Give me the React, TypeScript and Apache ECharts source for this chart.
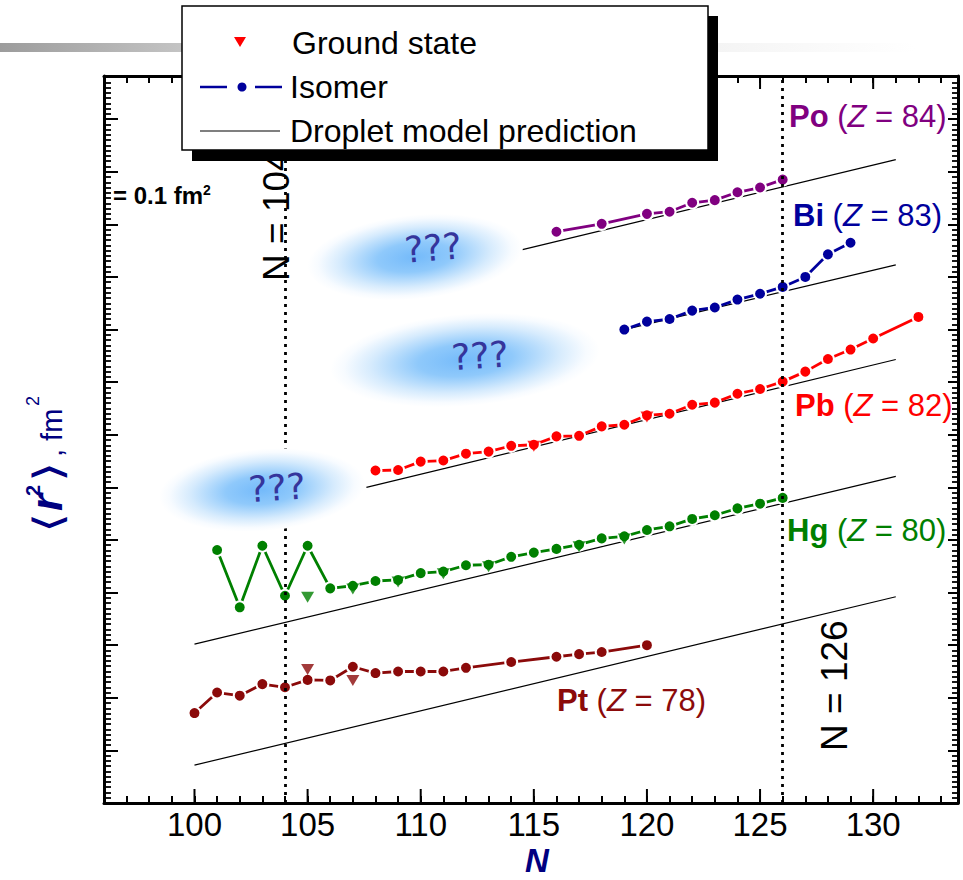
import React, { useEffect, useRef } from 'react';
import * as echarts from 'echarts';

// ---------- axes ----------
const X_MIN = 96;
const X_MAX = 133.75;
const Y_MIN = 0;
const Y_MAX = 1.382;
const X_TICK_LABELS = [100, 105, 110, 115, 120, 125, 130];
const MAGIC_N = [104, 126];

// ---------- data (N, <r^2> in fm^2, arbitrary offset) ----------
const PT_N = [100, 101, 102, 103, 104, 105, 106, 107, 108, 109, 110, 111, 112, 114, 116, 117, 118, 120];
const PT_R2 = [0.171, 0.210, 0.204, 0.226, 0.220, 0.234, 0.233, 0.259, 0.247, 0.250, 0.250, 0.250, 0.257, 0.268, 0.278, 0.283, 0.287, 0.300];
const PT_GS_N = [105, 107];
const PT_GS_R2 = [0.254, 0.233];

const HG_N = [101, 102, 103, 104, 105, 106, 107, 108, 109, 110, 111, 112, 113, 114, 115, 116, 117, 118, 119, 120, 121, 122, 123, 124, 125, 126];
const HG_R2 = [0.481, 0.372, 0.489, 0.394, 0.489, 0.408, 0.413, 0.422, 0.424, 0.437, 0.440, 0.452, 0.453, 0.468, 0.476, 0.483, 0.491, 0.503, 0.507, 0.519, 0.526, 0.540, 0.547, 0.560, 0.569, 0.580];
const HG_GS_N = [105, 107, 109, 111, 113, 117, 119];
const HG_GS_R2 = [0.391, 0.407, 0.420, 0.436, 0.449, 0.487, 0.502];

const PB_N = [108, 109, 110, 111, 112, 113, 114, 115, 116, 117, 118, 119, 120, 121, 122, 123, 124, 125, 126, 127, 128, 129, 130, 132];
const PB_R2 = [0.632, 0.633, 0.649, 0.651, 0.664, 0.668, 0.679, 0.681, 0.697, 0.698, 0.716, 0.719, 0.737, 0.740, 0.757, 0.761, 0.778, 0.787, 0.801, 0.820, 0.844, 0.862, 0.883, 0.924];
const PB_GS_N = [115, 120];
const PB_GS_R2 = [0.678, 0.734];

const BI_N = [119, 120, 121, 122, 123, 124, 125, 126, 127, 128, 129];
const BI_R2 = [0.900, 0.915, 0.920, 0.936, 0.942, 0.957, 0.968, 0.981, 1.000, 1.043, 1.065];

const PO_N = [116, 118, 120, 121, 122, 123, 124, 125, 126];
const PO_R2 = [1.086, 1.101, 1.120, 1.124, 1.141, 1.146, 1.161, 1.170, 1.185];

// droplet model prediction: [N, r2] endpoints
const DROP_PT = [[100, 0.072], [131, 0.392]];
const DROP_HG = [[100, 0.302], [131, 0.621]];
const DROP_PB = [[107.6, 0.600], [131, 0.843]];
const DROP_BI = [[119, 0.900], [131, 1.023]];
const DROP_PO = [[114.5, 1.052], [131, 1.223]];

const ELEMENT_LABELS = [
  { sym: 'Po', z: 84, color: '#800080', x: 789, y: 116 },
  { sym: 'Bi', z: 83, color: '#00009c', x: 793, y: 215 },
  { sym: 'Pb', z: 82, color: '#ff0000', x: 795, y: 405 },
  { sym: 'Hg', z: 80, color: '#008000', x: 787, y: 530 },
  { sym: 'Pt', z: 78, color: '#8b0a0a', x: 557, y: 700 },
];

const FONT = "'Liberation Sans', Arial, Helvetica, sans-serif";
const NAVY = '#000080';

const zip = (xs: number[], ys: number[]) => xs.map((x, i) => [x, ys[i]]);

const isoSeries = (color: string, xs: number[], ys: number[]) => ({
  type: 'line',
  data: zip(xs, ys),
  symbol: 'circle',
  symbolSize: 12,
  showAllSymbol: true,
  silent: true,
  z: 4,
  lineStyle: { color, width: 2.8 },
  itemStyle: { color, borderColor: '#ffffff', borderWidth: 2 },
});

const gsSeries = (color: string, xs: number[], ys: number[]) => ({
  type: 'scatter',
  data: zip(xs, ys),
  symbol: 'triangle',
  symbolRotate: 180,
  symbolSize: [13, 11],
  silent: true,
  z: 5,
  itemStyle: { color },
});

const dropSeries = (pts: number[][], extra: any = {}) => ({
  type: 'line',
  data: pts,
  symbol: 'none',
  silent: true,
  z: 3,
  lineStyle: { color: '#000', width: 1.2 },
  ...extra,
});

const blob = (cx: number, cy: number, rx: number, ry: number, rot: number, tx: number, ty: number) => [
  {
    type: 'ellipse',
    x: cx,
    y: cy,
    rotation: rot,
    z: 50,
    silent: true,
    shape: { cx: 0, cy: 0, rx, ry },
    style: {
      fill: {
        type: 'radial', x: 0.5, y: 0.5, r: 0.5,
        colorStops: [
          { offset: 0, color: '#74bafa' },
          { offset: 0.35, color: '#8fc9fb' },
          { offset: 0.7, color: '#d6ebfd' },
          { offset: 0.9, color: '#f7fbff' },
          { offset: 1, color: '#ffffff' },
        ],
      },
    },
  },
  {
    type: 'text',
    x: tx,
    y: ty,
    rotation: rot * 0.8,
    z: 51,
    silent: true,
    style: {
      text: '???',
      fontSize: 36,
      fontFamily: "'DejaVu Sans', sans-serif",
      fill: '#35359c',
      align: 'center',
      verticalAlign: 'middle',
    },
  },
];

function App() {
  const ref = useRef<HTMLDivElement>(null);
  useEffect(() => {
    if (!ref.current) return;
    const chart = echarts.init(ref.current, undefined, { renderer: 'svg' });

    const axisLine = { show: true, onZero: false, lineStyle: { color: '#000', width: 3 } };

    const labelEls = ELEMENT_LABELS.map((e) => ({
      type: 'text',
      x: e.x,
      y: e.y,
      z: 30,
      silent: true,
      style: {
        text: `{b|${e.sym}}{n| (}{i|Z}{n| = ${e.z})}`,
        align: 'left',
        verticalAlign: 'middle',
        fill: e.color,
        rich: {
          b: { fontSize: 31, fontWeight: 'bold', fontFamily: FONT, fill: e.color },
          n: { fontSize: 31, fontFamily: FONT, fill: e.color },
          i: { fontSize: 31, fontStyle: 'italic', fontFamily: FONT, fill: e.color },
        },
      },
    }));

    const yTitle = {
      type: 'group',
      x: 68,
      y: 533,
      rotation: Math.PI / 2,
      z: 30,
      silent: true,
      children: [
        { type: 'text', x: 0, y: 0, scaleX: 1.3, style: { text: '⟨', fontSize: 40, fontFamily: "'DejaVu Sans', sans-serif", fill: NAVY, align: 'left', verticalAlign: 'bottom' } },
        { type: 'text', x: 22, y: 0, style: { text: 'r', fontSize: 44, fontWeight: 'bold', fontStyle: 'italic', fontFamily: FONT, fill: NAVY, align: 'left', verticalAlign: 'bottom' } },
        { type: 'text', x: 37, y: -25, style: { text: '2', fontSize: 20, fontWeight: 'bold', fontFamily: FONT, fill: NAVY, align: 'left', verticalAlign: 'bottom' } },
        { type: 'text', x: 51, y: 0, scaleX: 1.3, style: { text: '⟩', fontSize: 40, fontFamily: "'DejaVu Sans', sans-serif", fill: NAVY, align: 'left', verticalAlign: 'bottom' } },
        { type: 'text', x: 76, y: -2, style: { text: ', fm', fontSize: 29, fontFamily: FONT, fill: NAVY, align: 'left', verticalAlign: 'bottom' } },
        { type: 'text', x: 127, y: -26, style: { text: '2', fontSize: 18, fontFamily: FONT, fill: NAVY, align: 'left', verticalAlign: 'bottom' } },
      ],
    };

    const legendEls = [
      { type: 'rect', z: 100, silent: true, shape: { x: 192, y: 16, width: 526, height: 145 }, style: { fill: '#000' } },
      { type: 'rect', z: 101, silent: true, shape: { x: 182, y: 6, width: 526, height: 144 }, style: { fill: '#fff', stroke: '#000', lineWidth: 1.5 } },
      { type: 'polygon', z: 102, silent: true, shape: { points: [[234, 37], [246, 37], [240, 47]] }, style: { fill: '#ff0000' } },
      { type: 'line', z: 102, silent: true, shape: { x1: 200, y1: 87, x2: 227, y2: 87 }, style: { stroke: '#00009c', lineWidth: 2.5 } },
      { type: 'line', z: 102, silent: true, shape: { x1: 255, y1: 87, x2: 282, y2: 87 }, style: { stroke: '#00009c', lineWidth: 2.5 } },
      { type: 'circle', z: 102, silent: true, shape: { cx: 242, cy: 87, r: 4.5 }, style: { fill: '#00009c' } },
      { type: 'line', z: 102, silent: true, shape: { x1: 200, y1: 131, x2: 280, y2: 131 }, style: { stroke: '#000', lineWidth: 1.2 } },
      { type: 'text', z: 102, silent: true, x: 292, y: 43, style: { text: 'Ground state', fontSize: 32, fontFamily: FONT, fill: '#000', align: 'left', verticalAlign: 'middle' } },
      { type: 'text', z: 102, silent: true, x: 290, y: 87, style: { text: 'Isomer', fontSize: 32, fontFamily: FONT, fill: '#000', align: 'left', verticalAlign: 'middle' } },
      { type: 'text', z: 102, silent: true, x: 290, y: 131, style: { text: 'Droplet model prediction', fontSize: 32, fontFamily: FONT, fill: '#000', align: 'left', verticalAlign: 'middle' } },
    ];

    const option: any = {
      animation: false,
      backgroundColor: '#ffffff',
      grid: { left: 104, right: 5, top: 76, bottom: 77, containLabel: false },
      xAxis: [
        {
          type: 'value', min: X_MIN, max: X_MAX, interval: 1, position: 'bottom',
          axisLine,
          axisTick: { show: true, inside: true, length: 7, lineStyle: { color: '#000', width: 2 } },
          axisLabel: {
            show: true, margin: 5, fontSize: 33, fontFamily: FONT, color: '#000',
            formatter: (v: number) => (X_TICK_LABELS.some((t) => Math.abs(t - v) < 1e-6) ? String(Math.round(v)) : ''),
          },
          splitLine: { show: false },
        },
        {
          type: 'value', min: X_MIN, max: X_MAX, interval: 1, position: 'top',
          axisLine,
          axisTick: { show: true, inside: true, length: 7, lineStyle: { color: '#000', width: 2 } },
          axisLabel: { show: false },
          splitLine: { show: false },
        },
      ],
      yAxis: [
        {
          type: 'value', min: Y_MIN, max: Y_MAX, interval: 0.1, position: 'left',
          axisLine,
          axisTick: { show: true, inside: true, length: 14, lineStyle: { color: '#000', width: 2 } },
          minorTick: { show: true, splitNumber: 10, length: 7, lineStyle: { color: '#000', width: 1.8 } },
          axisLabel: { show: false },
          splitLine: { show: false },
          minorSplitLine: { show: false },
        },
        {
          type: 'value', min: Y_MIN, max: Y_MAX, interval: 0.1, position: 'right',
          axisLine,
          axisTick: { show: true, inside: true, length: 10, lineStyle: { color: '#000', width: 2 } },
          minorTick: { show: true, splitNumber: 10, length: 6, lineStyle: { color: '#000', width: 1.8 } },
          axisLabel: { show: false },
          splitLine: { show: false },
          minorSplitLine: { show: false },
        },
      ],
      series: [
        dropSeries(DROP_PT, {
          markLine: {
            silent: true,
            symbol: ['none', 'none'],
            label: { show: false },
            lineStyle: { color: '#000', width: 2.8, type: [3, 5], opacity: 1 },
            data: MAGIC_N.map((v) => ({ xAxis: v })),
          },
        }),
        dropSeries(DROP_HG),
        dropSeries(DROP_PB),
        dropSeries(DROP_BI),
        dropSeries(DROP_PO),
        isoSeries('#8b0a0a', PT_N, PT_R2),
        isoSeries('#008000', HG_N, HG_R2),
        isoSeries('#ff0000', PB_N, PB_R2),
        isoSeries('#00009c', BI_N, BI_R2),
        isoSeries('#800080', PO_N, PO_R2),
        gsSeries('#8b0a0a', PT_GS_N, PT_GS_R2),
        gsSeries('#008000', HG_GS_N, HG_GS_R2),
        gsSeries('#ff0000', PB_GS_N, PB_GS_R2),
        {
          type: 'custom',
          silent: true,
          z: 6,
          clip: false,
          data: X_TICK_LABELS.map((v) => [v, Y_MIN]),
          encode: { x: 0, y: 1 },
          renderItem: (_p: any, api: any) => {
            const v = api.value(0);
            const b = api.coord([v, Y_MIN]);
            const t = api.coord([v, Y_MAX]);
            return {
              type: 'group',
              children: [
                { type: 'line', shape: { x1: b[0], y1: b[1], x2: b[0], y2: b[1] - 14 }, style: { stroke: '#000', lineWidth: 2 } },
                { type: 'line', shape: { x1: t[0], y1: t[1], x2: t[0], y2: t[1] + 13 }, style: { stroke: '#000', lineWidth: 2 } },
              ],
            };
          },
        },
      ],
      graphic: {
        elements: [
          {
            type: 'rect', z: 1, silent: true,
            shape: { x: 0, y: 43, width: 963, height: 9 },
            style: {
              fill: {
                type: 'linear', x: 0, y: 0, x2: 1, y2: 0,
                colorStops: [
                  { offset: 0, color: '#9c9c9c' },
                  { offset: 0.19, color: '#c4c4c4' },
                  { offset: 0.5, color: '#e6e6e6' },
                  { offset: 0.78, color: '#f6f6f6' },
                  { offset: 0.95, color: '#ffffff' },
                ],
              },
            },
          },
          ...blob(415, 257, 108, 42, 0.1, 433, 248),
          ...blob(465, 360, 135, 46, 0.08, 480, 356),
          ...blob(262, 490, 103, 41, 0.08, 277, 488),
          {
            type: 'text', x: 276, y: 281, rotation: Math.PI / 2, z: 30, silent: true,
            style: { text: 'N = 104', fontSize: 37, fontFamily: FONT, fill: '#000', align: 'left', verticalAlign: 'middle' },
          },
          {
            type: 'text', x: 834, y: 751, rotation: Math.PI / 2, z: 30, silent: true,
            style: { text: 'N = 126', fontSize: 37, fontFamily: FONT, fill: '#000', align: 'left', verticalAlign: 'middle' },
          },
          {
            type: 'text', x: 113, y: 195, z: 30, silent: true,
            style: {
              text: '{a|= 0.1 fm}{s|2}',
              align: 'left', verticalAlign: 'middle',
              rich: {
                a: { fontSize: 24, fontWeight: 'bold', fontFamily: FONT, fill: '#000', verticalAlign: 'bottom' },
                s: { fontSize: 14, fontWeight: 'bold', fontFamily: FONT, fill: '#000', verticalAlign: 'top' },
              },
            },
          },
          {
            type: 'text', x: 537, y: 860, z: 30, silent: true,
            style: { text: 'N', fontSize: 33, fontWeight: 'bold', fontStyle: 'italic', fontFamily: FONT, fill: NAVY, align: 'center', verticalAlign: 'middle' },
          },
          yTitle,
          ...labelEls,
          ...legendEls,
        ],
      },
    };

    chart.setOption(option);
    return () => chart.dispose();
  }, []);

  return <div ref={ref} style={{ position: 'absolute', left: 0, top: 0, width: 963, height: 880 }} />;
}

export default App;
